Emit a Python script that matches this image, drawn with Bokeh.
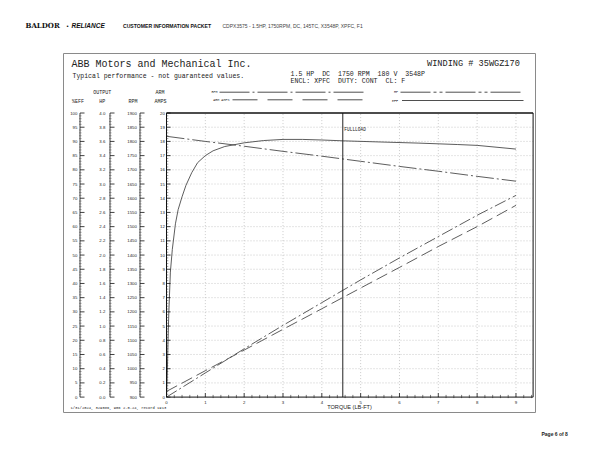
import numpy as np
from bokeh.plotting import figure
from bokeh.models import Range1d
from bokeh.core.properties import value
from bokeh.embed import file_html
from bokeh.resources import INLINE

# ---------------- data ----------------
torque_pts = [0, 1, 2, 3, 4, 5, 6, 7, 8, 9]
rpm_vals = [1818, 1800, 1783, 1765, 1748, 1730, 1712, 1695, 1677, 1660]
hp_vals = [0.00, 0.34, 0.68, 1.01, 1.33, 1.65, 1.96, 2.26, 2.56, 2.84]
amps_vals = [0.40, 1.86, 3.31, 4.77, 6.22, 7.68, 9.13, 10.60, 12.00, 13.50]
eff_torque = [0.0, 0.02, 0.04, 0.06, 0.10, 0.15, 0.23, 0.30, 0.40, 0.50, 0.65, 0.80,
              1.0, 1.2, 1.5, 2.0, 2.5, 3.0, 3.5, 4.0, 4.55, 5.5, 6.5, 7.5, 8.0, 9.0]
eff_vals = [0, 8, 20, 30, 44, 52, 61, 66, 70.5, 74.5, 79, 82.5,
            85.0, 86.7, 88.2, 89.5, 90.3, 90.7, 90.7, 90.5, 90.2, 89.8, 89.4, 88.9, 88.6, 87.3]
fullload_torque = 4.54

torque_ticks = [0, 1, 2, 3, 4, 5, 6, 7, 8, 9]
torque_labels = ["0", "1", "2", "3", "4", "5", "6", "7", "8", "9"]
amps_ticks = list(range(0, 21))
amps_labels = [str(v) for v in amps_ticks]
eff_ticks = list(range(0, 101, 5))
eff_labels = [str(v) for v in eff_ticks]
hp_ticks = [round(0.2 * i, 1) for i in range(21)]
hp_labels = [f"{v:.1f}" for v in hp_ticks]
rpm_ticks = list(range(900, 1901, 50))
rpm_labels = [str(v) for v in rpm_ticks]

# ---------------- layout (page pixels) ----------------
W, H, OX, OY = 584, 448, 0, 0
X0, SX = 166.0, 38.83      # page x of torque 0, px per lb-ft
Y0, SY = 396.6, 14.205     # page y of 0 amps, px per amp


def X(px):
    return (px - X0) / SX


def Y(py):
    return (Y0 - py) / SY


ylo, yhi = Y(OY + H), Y(OY)
p = figure(width=W, height=H, x_range=Range1d(X(OX), X(OX + W)), y_range=Range1d(ylo, yhi),
           output_backend="svg", toolbar_location=None, x_axis_location=None,
           y_axis_location=None, min_border=0)
p.outline_line_color = None
p.background_fill_color = "white"
p.border_fill_color = "white"
p.grid.visible = False
p.extra_y_ranges = {
    "eff": Range1d(ylo * 5, yhi * 5),
    "hp": Range1d(ylo * 0.2, yhi * 0.2),
    "rpm": Range1d(900 + 50 * ylo, 900 + 50 * yhi),
}

INK = "#222222"
MONO = "Liberation Mono"
SANS = "Liberation Sans"
NB = "\u00a0"


def txt(px, py, s, size, font=MONO, align="left", style="normal", color=INK):
    p.text(x=[X(px)], y=[Y(py)], text=[s.replace(" ", NB)], text_font=value(font),
           text_font_size=f"{size}px", text_align=align, text_baseline="middle",
           text_font_style=style, text_color=color)


def pseg(px0, py0, px1, py1, color=INK, width=1.0, dash="solid"):
    p.segment(x0=[X(px0)], y0=[Y(py0)], x1=[X(px1)], y1=[Y(py1)], line_color=color,
              line_width=width, line_dash=dash)


# ---------------- page header ----------------
txt(25, 25, "BALDOR", 7, font="DejaVu Serif", style="bold", color="#111")
txt(66, 25, "•", 6, font=SANS, color="#111")
txt(71, 25, "RELIANCE", 6.5, font=SANS, style="bold italic", color="#111")
txt(122.5, 25, "CUSTOMER INFORMATION PACKET", 5.1, font=SANS, style="bold", color="#111")
txt(222, 25, "CDPX3575 - 1.5HP, 1750RPM, DC, 145TC, X3548P, XPFC, F1", 5, font=SANS, color="#444")
txt(541, 433.5, "Page 6 of 8", 5, font=SANS, style="bold", color="#222")

# ---------------- outer box ----------------
p.quad(left=[X(63)], right=[X(535)], top=[Y(53)], bottom=[Y(412)], fill_color=None,
       line_color="#8a8a8a", line_width=1)

# ---------------- box header texts ----------------
txt(71, 63.5, "ABB Motors and Mechanical Inc.", 10)
txt(72, 76, "Typical performance - not guaranteed values.", 6.5)
txt(426.5, 63.5, "WINDING # 35WGZ170", 8.6)
txt(290, 73.5, "1.5 HP  DC  1750 RPM  180 V  3548P", 6.6)
txt(290, 80.7, "ENCL: XPFC  DUTY: CONT  CL: F", 6.6)

# legend keys
txt(217, 91.7, "RPM", 3.4, align="right")
pseg(219, 91.7, 365, 91.7, width=0.8, dash="30 3 2 3")
txt(229, 99.3, "ARM AMPS", 3.4, align="right")
pseg(232, 99.3, 364, 99.3, width=0.8, dash="25 10")
txt(397.5, 91.7, "HP", 3.4, align="right")
pseg(400, 91.7, 523, 91.7, width=0.8, dash="30 3 3 3 3 3")
txt(397.5, 100, "EFF", 3.4, align="right")
pseg(401.5, 100, 523, 100, width=0.8)

# scale headings
txt(77.5, 101.7, "%EFF", 5, align="center")
txt(101.7, 92.7, "OUTPUT", 5, align="center")
txt(101.8, 101.7, "HP", 5, align="center")
txt(132.5, 101.7, "RPM", 5, align="center")
txt(159.5, 92.7, "ARM", 5, align="center")
txt(160, 101.7, "AMPS", 5, align="center")

# ---------------- grid ----------------
xmax = X(532.6)
GRID = "#a8a8a8"
p.segment(x0=torque_ticks[1:], y0=0, x1=torque_ticks[1:], y1=20, line_color=GRID,
          line_width=0.6, line_dash="1 2")
p.segment(x0=0, y0=amps_ticks[1:-1], x1=xmax, y1=amps_ticks[1:-1], line_color=GRID,
          line_width=0.6, line_dash="1 2")

# ---------------- curves ----------------
CURVE = "#404040"
p.line(eff_torque, eff_vals, y_range_name="eff", line_color=CURVE, line_width=0.85)
p.line(torque_pts, rpm_vals, y_range_name="rpm", line_color=CURVE, line_width=0.85,
       line_dash="18 3 2 3")
p.line(torque_pts, hp_vals, y_range_name="hp", line_color=CURVE, line_width=0.85,
       line_dash="12 3 2 3")
p.line(torque_pts, amps_vals, line_color=CURVE, line_width=0.85, line_dash="12 5")

# full load marker
p.segment(x0=[fullload_torque], y0=[0], x1=[fullload_torque], y1=[20], line_color="#222",
          line_width=1)
p.text(x=[fullload_torque + 1.5 / SX], y=[Y(129)], text=["FULLLOAD"], text_font=value(MONO),
       text_font_size="4.5px", text_baseline="middle", text_color=INK)

# ---------------- chart frame ----------------
p.segment(x0=[0, 0, 0, xmax], y0=[0, 20, 0, 0], x1=[xmax, xmax, 0, xmax], y1=[0, 20, 20, 20],
          line_color="#111", line_width=[1, 1.6, 1, 1])

# torque axis ticks and labels
x_minor = [round(0.2 * i, 1) for i in range(48) if i % 5 and 0.2 * i < xmax]
p.segment(x0=torque_ticks, y0=0, x1=torque_ticks, y1=4 / SY, line_color="#111", line_width=0.8)
p.segment(x0=x_minor, y0=-1 / SY, x1=x_minor, y1=2.2 / SY, line_color="#222", line_width=0.6)
p.text(x=torque_ticks, y=Y(401.5), text=torque_labels, text_font=value(SANS),
       text_font_size="4.3px", text_align="center", text_baseline="middle", text_color=INK)
txt(349, 406.5, "TORQUE (LB-FT)", 5.6, font=SANS, align="center")

# amps axis (frame left) ticks and labels
amps_minor = [round(0.2 * i, 1) for i in range(101) if i % 5]
p.segment(x0=0, y0=amps_ticks, x1=4 / SX, y1=amps_ticks, line_color="#111", line_width=0.8)
p.segment(x0=0, y0=amps_minor, x1=1.8 / SX, y1=amps_minor, line_color="#333", line_width=0.5)
p.text(x=X(164.3), y=amps_ticks, text=amps_labels, text_font=value(SANS), text_font_size="4.3px",
       text_align="right", text_baseline="middle", text_color=INK)

# ---------------- extra left scales ----------------
eff_minor = [v for v in range(0, 101) if v % 5]
hp_minor = [round(0.04 * i, 2) for i in range(101) if i % 5]
rpm_minor = [900 + 10 * i for i in range(101) if i % 5]
scales = [
    ("eff", eff_ticks, eff_labels, eff_minor, 79.5, 76.8),
    ("hp", hp_ticks, hp_labels, hp_minor, 109.5, 104.8),
    ("rpm", rpm_ticks, rpm_labels, rpm_minor, 139.5, 136.3),
]
for rn, ticks, labels, minor, ax_px, lab_px in scales:
    p.segment(x0=[X(ax_px)], y0=[ticks[0]], x1=[X(ax_px)], y1=[ticks[-1]], y_range_name=rn,
              line_color="#111", line_width=0.8)
    p.segment(x0=X(ax_px), y0=ticks, x1=X(ax_px + 4.5), y1=ticks, y_range_name=rn,
              line_color="#111", line_width=0.8)
    p.segment(x0=X(ax_px - 1), y0=minor, x1=X(ax_px + 1.6), y1=minor, y_range_name=rn,
              line_color="#444", line_width=0.45)
    p.text(x=X(lab_px), y=ticks, text=labels, y_range_name=rn, text_font=value(SANS),
           text_font_size="4.3px", text_align="right", text_baseline="middle", text_color=INK)

# footnote
txt(70, 407.3, "1/31/2024, 329086, 906 2.0.24, record 1913", 3.8)

open("out.html", "w").write(file_html(p, INLINE))
